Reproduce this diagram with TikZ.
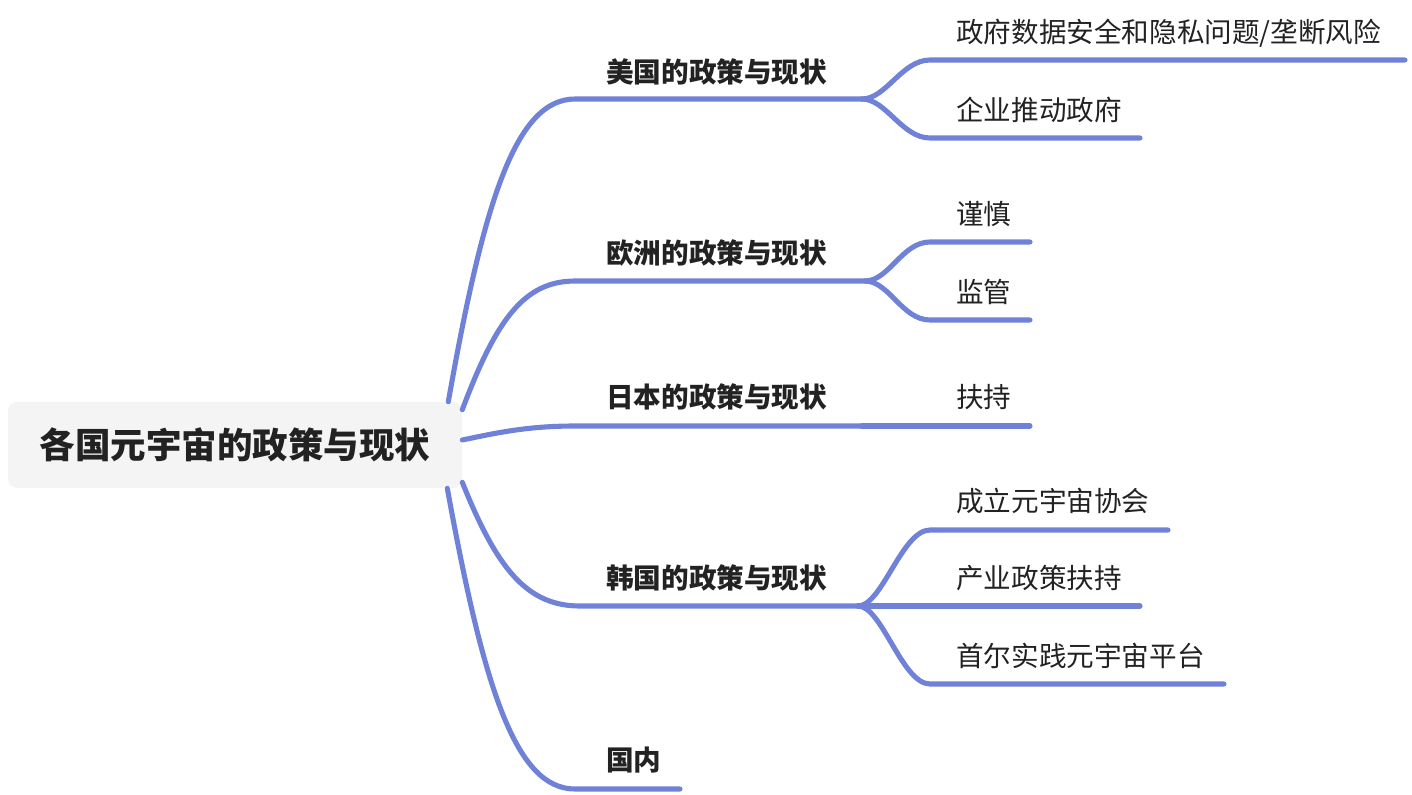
\documentclass[tikz,border=0pt]{standalone}
\usepackage{fontspec}
\setmainfont{Noto Sans CJK SC}
\usetikzlibrary{calc}
\definecolor{MapBlue}{HTML}{7081D8}
\definecolor{RootGray}{HTML}{F4F4F4}
\definecolor{InkDark}{HTML}{222222}

\begin{document}
\begin{tikzpicture}[x=0.02cm,y=-0.02cm,
  branch/.style={draw=MapBlue,line width=2.9pt,line cap=round},
  topic/.style={anchor=west,inner sep=0pt,text=InkDark,font=\bfseries\fontsize{15.7}{18}\selectfont},
  leaf/.style={anchor=west,inner sep=0pt,text=InkDark,font=\fontsize{15.7}{18}\selectfont}]
  \useasboundingbox (0,0) rectangle (1412,794);
  % root
  \node[fill=RootGray,rounded corners=5pt,minimum width=9.08cm,minimum height=1.72cm,text=InkDark,font=\bfseries\fontsize{20.2}{24}\selectfont] (root) at (235,445) {各国元宇宙的政策与现状};
  % topics: start and fork of each underline
  \coordinate (usS) at (575,99);  \coordinate (usF) at (862,99);
  \coordinate (euS) at (575,281); \coordinate (euF) at (865,281);
  \coordinate (jpS) at (575,426); \coordinate (jpF) at (862,426);
  \coordinate (krS) at (580,606); \coordinate (krF) at (858,606);
  \coordinate (cnS) at (575,789); \coordinate (cnF) at (680,789);
  \node[topic] (us) at (606,72)  {美国的政策与现状};
  \node[topic] (eu) at (606,253) {欧洲的政策与现状};
  \node[topic] (jp) at (606,397) {日本的政策与现状};
  \node[topic] (kr) at (606,578) {韩国的政策与现状};
  \node[topic] (cn) at (606,760) {国内};
  % leaves
  \node[leaf] (us1) at (956,33)  {政府数据安全和隐私问题/垄断风险};
  \node[leaf] (us2) at (956,110) {企业推动政府};
  \node[leaf] (eu1) at (956,214) {谨慎};
  \node[leaf] (eu2) at (956,292) {监管};
  \node[leaf] (jp1) at (956,397) {扶持};
  \node[leaf] (kr1) at (956,501) {成立元宇宙协会};
  \node[leaf] (kr2) at (956,578) {产业政策扶持};
  \node[leaf] (kr3) at (956,656) {首尔实践元宇宙平台};
  % root to topics
  \draw[branch] ($(root.north east)+(-14,0)$) .. controls (484,200) and (516,99) .. (usS) -- (usF);
  \draw[branch] ($(root.north east)+(0,8)$) .. controls (496,320) and (524,281) .. (euS) -- (euF);
  \draw[branch] ($(root.east)+(0,-5)$) .. controls (500,432) and (530,426) .. (jpS) -- (jpF);
  \draw[branch] ($(root.south east)+(0,-6)$) .. controls (497,569) and (527,606) .. (krS) -- (krF);
  \draw[branch] ($(root.south east)+(-15,0)$) .. controls (484,690) and (516,789) .. (cnS) -- (cnF);
  % topics to leaves
  \foreach \f/\y/\e in {us/60/1405, us/138/1140, eu/242/1030, eu/320/1030, jp/426/1030, kr/530/1168, kr/606/1140, kr/684/1224}{
    \draw[branch] (\f F) .. controls +(24,0) and (902,\y) .. (930,\y) -- (\e,\y);}
\end{tikzpicture}
\end{document}
